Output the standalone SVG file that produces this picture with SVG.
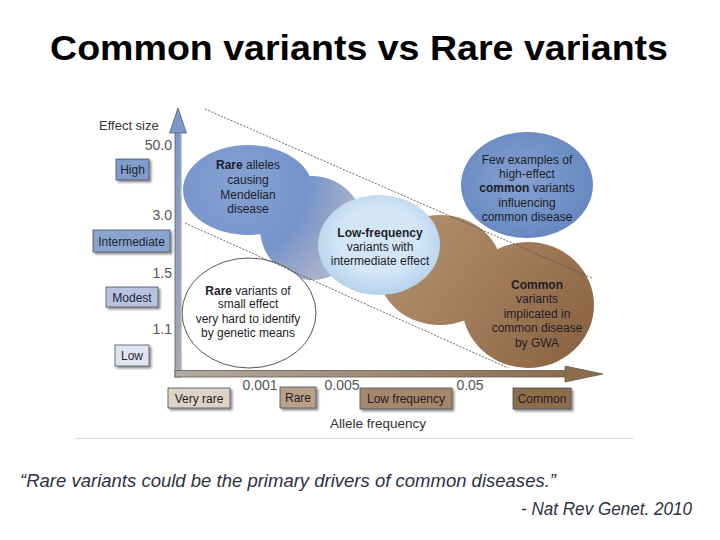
<svg xmlns="http://www.w3.org/2000/svg" width="720" height="540" viewBox="0 0 720 540">
<defs>
<style>
.t{font-family:"Liberation Sans",Arial,sans-serif}
.tick{font-family:"Liberation Sans",Arial,sans-serif;font-size:14px;fill:#555}
.bt{font-family:"Liberation Sans",Arial,sans-serif;font-size:12px;text-anchor:middle;fill:#1c2438}
.bl{font-family:"Liberation Sans",Arial,sans-serif;font-size:12px;text-anchor:middle;fill:#1e1e28}
.box{stroke:#4a4f60;stroke-width:0.8;filter:url(#sh)}
.dash{stroke:#555;stroke-width:0.9;stroke-dasharray:2 1.5;fill:none}
</style>
<filter id="sh" x="-30%" y="-30%" width="160%" height="170%">
<feDropShadow dx="2" dy="2" stdDeviation="1.3" flood-color="#000" flood-opacity="0.45"/>
</filter>
<linearGradient id="gy" x1="0" y1="0" x2="0" y2="1">
<stop offset="0" stop-color="#7b98c8"/><stop offset="1" stop-color="#a8a9b2"/>
</linearGradient>
<linearGradient id="gx" x1="0" y1="0" x2="1" y2="0">
<stop offset="0" stop-color="#b0aba4"/><stop offset="1" stop-color="#8d6c4c"/>
</linearGradient>
<radialGradient id="gb1" gradientUnits="userSpaceOnUse" cx="240" cy="185" r="150">
<stop offset="0" stop-color="#86a2d4"/><stop offset="0.45" stop-color="#7693cb"/><stop offset="0.75" stop-color="#a3aec8"/><stop offset="1" stop-color="#b5bccb"/>
</radialGradient>
<radialGradient id="glf" cx="0.5" cy="0.45" r="0.55">
<stop offset="0.6" stop-color="#d3e6f6"/><stop offset="1" stop-color="#b6d2ed"/>
</radialGradient>
<radialGradient id="gfew" cx="0.45" cy="0.45" r="0.6">
<stop offset="0" stop-color="#86a2d2"/><stop offset="1" stop-color="#6586c0"/>
</radialGradient>
<linearGradient id="gbr" gradientUnits="userSpaceOnUse" x1="400" y1="225" x2="590" y2="365">
<stop offset="0" stop-color="#b0906f"/><stop offset="0.5" stop-color="#a07a58"/><stop offset="1" stop-color="#88603f"/>
</linearGradient>
</defs>
<rect width="720" height="540" fill="#fff"/>

<text class="t" x="359" y="60" font-size="35" font-weight="bold" text-anchor="middle" textLength="618" lengthAdjust="spacingAndGlyphs" fill="#000">Common variants vs Rare variants</text>

<line x1="75" y1="438.5" x2="634" y2="438.5" stroke="#dcdcdc" stroke-width="1"/>

<g id="blobs">
<g id="brown-blob">
<ellipse cx="440" cy="270" rx="62" ry="55" fill="url(#gbr)"/>
<ellipse cx="528" cy="305" rx="66" ry="63" fill="url(#gbr)"/>
</g>
<g id="mendelian">
<ellipse cx="312" cy="228" rx="52" ry="52" fill="url(#gb1)"/>
<ellipse cx="248" cy="190" rx="65" ry="45" fill="url(#gb1)"/>
</g>
<g id="lowfreq">
<ellipse cx="379" cy="245" rx="61" ry="50" fill="url(#glf)"/>
</g>
<g id="smalleffect">
<ellipse cx="249" cy="313" rx="67" ry="55" fill="#fff" stroke="#444" stroke-width="0.9"/>
</g>
</g>

<g id="connectors">
<line class="dash" x1="205" y1="109" x2="592" y2="278"/>
<line class="dash" x1="185" y1="223" x2="508" y2="368"/>
</g>

<g id="fewexamples">
<ellipse cx="527" cy="185" rx="66" ry="53" fill="url(#gfew)"/>
<text class="bl"><tspan x="527" y="164">Few examples of</tspan><tspan x="527" y="178">high-effect</tspan><tspan x="527" y="192"><tspan font-weight="bold">common</tspan> variants</tspan><tspan x="527" y="207">influencing</tspan><tspan x="527" y="221">common disease</tspan></text>
</g>

<g id="labels-blobs">
<text class="bl"><tspan x="248" y="169"><tspan font-weight="bold">Rare</tspan> alleles</tspan><tspan x="248" y="184">causing</tspan><tspan x="248" y="199">Mendelian</tspan><tspan x="248" y="213">disease</tspan></text>
<text class="bl"><tspan x="380" y="237" font-weight="bold">Low-frequency</tspan><tspan x="380" y="251">variants with</tspan><tspan x="380" y="265">intermediate effect</tspan></text>
<text class="bl"><tspan x="537" y="289" font-weight="bold">Common</tspan><tspan x="537" y="303">variants</tspan><tspan x="537" y="318">implicated in</tspan><tspan x="537" y="332">common disease</tspan><tspan x="537" y="347">by GWA</tspan></text>
<text class="bl"><tspan x="248" y="295"><tspan font-weight="bold">Rare</tspan> variants of</tspan><tspan x="248" y="308">small effect</tspan><tspan x="248" y="323">very hard to identify</tspan><tspan x="248" y="337">by genetic means</tspan></text>
</g>

<g id="axes">
<rect x="175" y="128" width="6" height="249" fill="url(#gy)" stroke="#5a5f70" stroke-width="0.8"/>
<polygon points="178,108 186.5,133 169.5,133" fill="#7b98c8" stroke="#5a5f70" stroke-width="0.8"/>
<rect x="175" y="370.5" width="392" height="6.5" fill="url(#gx)" stroke="#6a5a4a" stroke-width="0.8"/>
<polygon points="603,374 565,382 565,366" fill="#8d6c4c" stroke="#6a5a4a" stroke-width="0.8"/>
<line x1="181" y1="133" x2="181" y2="370" stroke="#d0d0d8" stroke-width="1"/>
</g>

<g id="yaxis-labels">
<text class="t" x="99" y="130" font-size="13" fill="#333">Effect size</text>
<text class="tick" x="172" y="150" text-anchor="end">50.0</text>
<text class="tick" x="172" y="220" text-anchor="end">3.0</text>
<text class="tick" x="172" y="278" text-anchor="end">1.5</text>
<text class="tick" x="172" y="334" text-anchor="end">1.1</text>
</g>

<g id="box-high"><rect class="box" x="116" y="159" width="33" height="21" fill="#7f9cca"/><text class="bt" x="132.5" y="174">High</text></g>
<g id="box-intermediate"><rect class="box" x="93" y="230" width="77" height="22" fill="#8aa4cf"/><text class="bt" x="131.5" y="245.5">Intermediate</text></g>
<g id="box-modest"><rect class="box" x="106" y="287" width="52" height="20" fill="#b6c3df"/><text class="bt" x="132" y="301.5">Modest</text></g>
<g id="box-low"><rect class="box" x="115" y="345" width="34" height="21" fill="#dfe4f0"/><text class="bt" x="132" y="360">Low</text></g>

<g id="xaxis-labels">
<text class="tick" x="260" y="390" text-anchor="middle">0.001</text>
<text class="tick" x="342" y="390" text-anchor="middle">0.005</text>
<text class="tick" x="470" y="390" text-anchor="middle">0.05</text>
<text class="t" x="378" y="428" font-size="13.5" fill="#333" text-anchor="middle">Allele frequency</text>
</g>

<g id="box-veryrare"><rect class="box" x="168" y="388" width="62" height="20" fill="#ddd3c6"/><text class="bl" x="199" y="402.5">Very rare</text></g>
<g id="box-rare"><rect class="box" x="280" y="387" width="36" height="21" fill="#b9a087"/><text class="bl" x="298" y="402">Rare</text></g>
<g id="box-lowfreq"><rect class="box" x="360" y="388" width="92" height="21" fill="#a6876a"/><text class="bl" x="406" y="403">Low frequency</text></g>
<g id="box-common"><rect class="box" x="513" y="388" width="58" height="21" fill="#8f6d4c"/><text class="bl" x="542" y="403">Common</text></g>

<text class="t" x="20" y="487" font-size="17.5" font-style="italic" fill="#2d3142" textLength="536" lengthAdjust="spacingAndGlyphs">“Rare variants could be the primary drivers of common diseases.”</text>
<text class="t" x="692" y="515" font-size="17.5" font-style="italic" fill="#2d3142" text-anchor="end" textLength="171" lengthAdjust="spacingAndGlyphs">- Nat Rev Genet. 2010</text>
</svg>
